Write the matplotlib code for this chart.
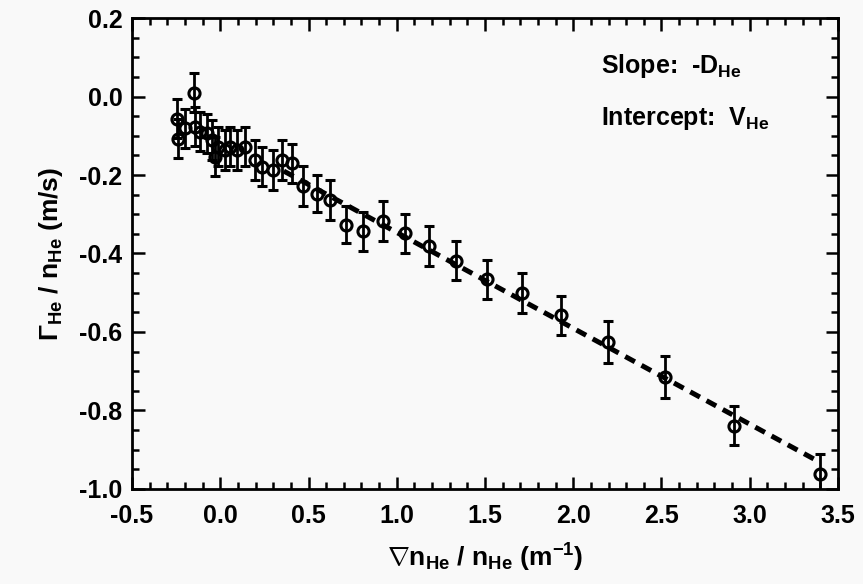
import numpy as np
import matplotlib
matplotlib.use("Agg")
import matplotlib.pyplot as plt
from matplotlib.ticker import MultipleLocator

plt.rcParams['font.family'] = ['Liberation Sans', 'DejaVu Sans']
plt.rcParams['font.weight'] = 'bold'
plt.rcParams['axes.labelweight'] = 'bold'
plt.rcParams['mathtext.fontset'] = 'custom'
plt.rcParams['mathtext.rm'] = 'Liberation Sans:bold'
plt.rcParams['mathtext.it'] = 'Liberation Sans:bold'
plt.rcParams['mathtext.bf'] = 'Liberation Sans:bold'
plt.rcParams['mathtext.sf'] = 'Liberation Sans:bold'

# data
grad_x = [-0.247, -0.238, -0.149, -0.200, -0.143, -0.115, -0.077, -0.048,
          -0.011, -0.030, 0.027, 0.055, 0.093, 0.140, 0.197, 0.235, 0.300,
          0.348, 0.405, 0.467, 0.546, 0.622, 0.712, 0.810, 0.924, 1.047,
          1.180, 1.336, 1.510, 1.711, 1.930, 2.197, 2.520, 2.910, 3.400]
flux_y = [-0.056, -0.107, 0.010, -0.081, -0.077, -0.090, -0.094, -0.111,
          -0.128, -0.153, -0.136, -0.128, -0.136, -0.128, -0.162, -0.179,
          -0.187, -0.162, -0.170, -0.228, -0.248, -0.264, -0.327, -0.344,
          -0.317, -0.349, -0.381, -0.418, -0.466, -0.501, -0.558, -0.625,
          -0.715, -0.839, -0.962]
flux_err = [0.05, 0.05, 0.05, 0.05, 0.05, 0.05, 0.05, 0.05,
            0.05, 0.05, 0.05, 0.05, 0.05, 0.05, 0.05, 0.05,
            0.05, 0.05, 0.05, 0.05, 0.047, 0.05, 0.047, 0.05,
            0.05, 0.05, 0.05, 0.05, 0.05, 0.05, 0.05, 0.053,
            0.054, 0.05, 0.05]

fit_x = [0.36, 3.38]
fit_y = [-0.19, -0.928]

bg = '#f9f9f9'
fig = plt.figure(figsize=(8.63, 5.84), dpi=100, facecolor=bg)
ax = fig.add_axes([0.153, 0.163, 0.818, 0.806], facecolor=bg)

ax.plot(fit_x, fit_y, color='black', lw=3.6, ls=(0, (2.2, 1.5)), zorder=2)
ax.errorbar(grad_x, flux_y, yerr=flux_err, fmt='o', ms=8, mfc='none',
            mec='black', mew=2.2, ecolor='black', elinewidth=2.0,
            capsize=3.6, capthick=2.2, zorder=3)

ax.set_xlim(-0.5, 3.5)
ax.set_ylim(-1.0, 0.2)
ax.xaxis.set_major_locator(MultipleLocator(0.5))
ax.xaxis.set_minor_locator(MultipleLocator(0.1))
ax.yaxis.set_major_locator(MultipleLocator(0.2))
ax.yaxis.set_minor_locator(MultipleLocator(0.05))
ax.tick_params(which='both', direction='in', top=True, right=True,
               labelsize=18, width=1.8, pad=7)
ax.tick_params(axis='x', which='major', pad=11)
ax.tick_params(which='major', length=9)
ax.tick_params(which='minor', length=5)
for s in ax.spines.values():
    s.set_linewidth(2.0)

ax.set_xticklabels([f'{v:.1f}' for v in ax.get_xticks()])
ax.set_yticklabels([f'{v:.1f}' for v in ax.get_yticks()])

ax.set_xlabel(r'$\nabla$n$_{\mathrm{He}}$ / n$_{\mathrm{He}}$ (m$^{-1}$)',
              fontsize=19, labelpad=10)
ax.set_ylabel(r'$\Gamma_{\mathrm{He}}$ / n$_{\mathrm{He}}$ (m/s)',
              fontsize=19, labelpad=10)

ax.text(0.664, 0.883, r'Slope:  -D$_{\mathrm{He}}$', transform=ax.transAxes,
        fontsize=18, fontweight='bold', va='baseline')
ax.text(0.664, 0.773, r'Intercept:  V$_{\mathrm{He}}$', transform=ax.transAxes,
        fontsize=18, fontweight='bold', va='baseline')

fig.savefig('out.png', dpi=100, facecolor=bg)
